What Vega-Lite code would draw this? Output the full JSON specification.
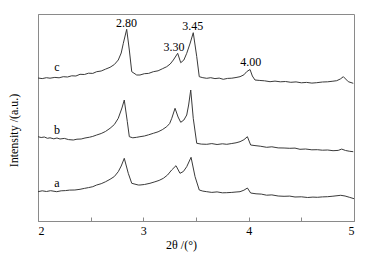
{
  "$schema": "https://vega.github.io/schema/vega-lite/v6.json",
  "width": 316,
  "height": 207,
  "autosize": {"type": "none"},
  "padding": {"left": 38, "top": 14, "right": 14, "bottom": 35},
  "config": {
    "view": {"stroke": "#8a8a8a", "strokeWidth": 1},
    "font": "Liberation Serif, Times New Roman, serif"
  },
  "datasets": {
    "curves": [
      {"s": "c", "t": 2.000, "i": 143}, {"s": "c", "t": 2.040, "i": 142.4}, {"s": "c", "t": 2.080, "i": 143.3}, {"s": "c", "t": 2.114, "i": 142.8}, {"s": "c", "t": 2.160, "i": 143.6}, {"s": "c", "t": 2.200, "i": 143.2}, {"s": "c", "t": 2.240, "i": 144.3}, {"s": "c", "t": 2.280, "i": 144}, {"s": "c", "t": 2.320, "i": 145.2}, {"s": "c", "t": 2.360, "i": 145}, {"s": "c", "t": 2.399, "i": 146.7}, {"s": "c", "t": 2.440, "i": 146.5}, {"s": "c", "t": 2.480, "i": 147.8}, {"s": "c", "t": 2.520, "i": 147.6}, {"s": "c", "t": 2.557, "i": 149.3}, {"s": "c", "t": 2.600, "i": 150}, {"s": "c", "t": 2.640, "i": 151.8}, {"s": "c", "t": 2.684, "i": 153.7}, {"s": "c", "t": 2.725, "i": 156.5}, {"s": "c", "t": 2.762, "i": 161}, {"s": "c", "t": 2.790, "i": 168}, {"s": "c", "t": 2.810, "i": 177.7}, {"s": "c", "t": 2.842, "i": 191.7}, {"s": "c", "t": 2.867, "i": 171}, {"s": "c", "t": 2.890, "i": 149.3}, {"s": "c", "t": 2.937, "i": 146}, {"s": "c", "t": 2.968, "i": 146}, {"s": "c", "t": 3.010, "i": 147.3}, {"s": "c", "t": 3.050, "i": 147.6}, {"s": "c", "t": 3.095, "i": 149.3}, {"s": "c", "t": 3.140, "i": 150.2}, {"s": "c", "t": 3.180, "i": 152.2}, {"s": "c", "t": 3.222, "i": 154.3}, {"s": "c", "t": 3.255, "i": 157}, {"s": "c", "t": 3.285, "i": 161}, {"s": "c", "t": 3.326, "i": 167.7}, {"s": "c", "t": 3.355, "i": 158.3}, {"s": "c", "t": 3.385, "i": 161}, {"s": "c", "t": 3.412, "i": 167.7}, {"s": "c", "t": 3.445, "i": 178}, {"s": "c", "t": 3.474, "i": 188.3}, {"s": "c", "t": 3.507, "i": 164.3}, {"s": "c", "t": 3.531, "i": 144.3}, {"s": "c", "t": 3.565, "i": 143.3}, {"s": "c", "t": 3.602, "i": 142.7}, {"s": "c", "t": 3.640, "i": 143.3}, {"s": "c", "t": 3.680, "i": 142.4}, {"s": "c", "t": 3.720, "i": 142.9}, {"s": "c", "t": 3.759, "i": 141.7}, {"s": "c", "t": 3.800, "i": 142.6}, {"s": "c", "t": 3.840, "i": 142.8}, {"s": "c", "t": 3.880, "i": 143.5}, {"s": "c", "t": 3.918, "i": 144.3}, {"s": "c", "t": 3.955, "i": 146.2}, {"s": "c", "t": 3.981, "i": 149.3}, {"s": "c", "t": 4.013, "i": 151.5}, {"s": "c", "t": 4.035, "i": 145}, {"s": "c", "t": 4.060, "i": 141}, {"s": "c", "t": 4.100, "i": 140.6}, {"s": "c", "t": 4.150, "i": 140.2}, {"s": "c", "t": 4.203, "i": 139.3}, {"s": "c", "t": 4.250, "i": 139.9}, {"s": "c", "t": 4.300, "i": 139.2}, {"s": "c", "t": 4.350, "i": 139.5}, {"s": "c", "t": 4.400, "i": 138.7}, {"s": "c", "t": 4.450, "i": 139.1}, {"s": "c", "t": 4.500, "i": 138.2}, {"s": "c", "t": 4.550, "i": 138.6}, {"s": "c", "t": 4.600, "i": 137.9}, {"s": "c", "t": 4.646, "i": 138.3}, {"s": "c", "t": 4.700, "i": 139}, {"s": "c", "t": 4.750, "i": 139.2}, {"s": "c", "t": 4.800, "i": 139.8}, {"s": "c", "t": 4.836, "i": 140.3}, {"s": "c", "t": 4.870, "i": 142}, {"s": "c", "t": 4.899, "i": 144.3}, {"s": "c", "t": 4.946, "i": 139.3}, {"s": "c", "t": 4.993, "i": 137.7},
      {"s": "b", "t": 2.000, "i": 84.3}, {"s": "b", "t": 2.030, "i": 83.5}, {"s": "b", "t": 2.060, "i": 84}, {"s": "b", "t": 2.090, "i": 82.7}, {"s": "b", "t": 2.114, "i": 83.2}, {"s": "b", "t": 2.150, "i": 82.2}, {"s": "b", "t": 2.180, "i": 83}, {"s": "b", "t": 2.209, "i": 82}, {"s": "b", "t": 2.250, "i": 82.6}, {"s": "b", "t": 2.290, "i": 81.4}, {"s": "b", "t": 2.335, "i": 81}, {"s": "b", "t": 2.370, "i": 81.8}, {"s": "b", "t": 2.410, "i": 82}, {"s": "b", "t": 2.446, "i": 83}, {"s": "b", "t": 2.490, "i": 83.8}, {"s": "b", "t": 2.520, "i": 84.6}, {"s": "b", "t": 2.557, "i": 86}, {"s": "b", "t": 2.600, "i": 87.5}, {"s": "b", "t": 2.640, "i": 89.5}, {"s": "b", "t": 2.684, "i": 92.7}, {"s": "b", "t": 2.725, "i": 96.5}, {"s": "b", "t": 2.762, "i": 102.7}, {"s": "b", "t": 2.797, "i": 113}, {"s": "b", "t": 2.819, "i": 121}, {"s": "b", "t": 2.848, "i": 99.3}, {"s": "b", "t": 2.867, "i": 84.3}, {"s": "b", "t": 2.900, "i": 83.2}, {"s": "b", "t": 2.937, "i": 83.7}, {"s": "b", "t": 2.968, "i": 84.3}, {"s": "b", "t": 3.010, "i": 85}, {"s": "b", "t": 3.050, "i": 86.2}, {"s": "b", "t": 3.095, "i": 87.7}, {"s": "b", "t": 3.140, "i": 89.2}, {"s": "b", "t": 3.180, "i": 91.3}, {"s": "b", "t": 3.222, "i": 94.3}, {"s": "b", "t": 3.250, "i": 97.5}, {"s": "b", "t": 3.270, "i": 102.7}, {"s": "b", "t": 3.301, "i": 112.7}, {"s": "b", "t": 3.330, "i": 104}, {"s": "b", "t": 3.355, "i": 98.7}, {"s": "b", "t": 3.385, "i": 101}, {"s": "b", "t": 3.412, "i": 106}, {"s": "b", "t": 3.430, "i": 116}, {"s": "b", "t": 3.450, "i": 131}, {"s": "b", "t": 3.474, "i": 102.7}, {"s": "b", "t": 3.507, "i": 77.7}, {"s": "b", "t": 3.550, "i": 76.9}, {"s": "b", "t": 3.602, "i": 76.7}, {"s": "b", "t": 3.650, "i": 77.4}, {"s": "b", "t": 3.700, "i": 76.5}, {"s": "b", "t": 3.750, "i": 77.2}, {"s": "b", "t": 3.792, "i": 76.7}, {"s": "b", "t": 3.840, "i": 77.5}, {"s": "b", "t": 3.880, "i": 78.2}, {"s": "b", "t": 3.918, "i": 79.3}, {"s": "b", "t": 3.955, "i": 81.3}, {"s": "b", "t": 3.988, "i": 84.3}, {"s": "b", "t": 4.019, "i": 76}, {"s": "b", "t": 4.060, "i": 75.4}, {"s": "b", "t": 4.110, "i": 74.8}, {"s": "b", "t": 4.171, "i": 73.7}, {"s": "b", "t": 4.220, "i": 74.2}, {"s": "b", "t": 4.280, "i": 73.1}, {"s": "b", "t": 4.336, "i": 73}, {"s": "b", "t": 4.390, "i": 72.7}, {"s": "b", "t": 4.440, "i": 72.9}, {"s": "b", "t": 4.487, "i": 71.7}, {"s": "b", "t": 4.540, "i": 72}, {"s": "b", "t": 4.600, "i": 71.2}, {"s": "b", "t": 4.652, "i": 71.3}, {"s": "b", "t": 4.700, "i": 70.8}, {"s": "b", "t": 4.750, "i": 71}, {"s": "b", "t": 4.801, "i": 70.3}, {"s": "b", "t": 4.850, "i": 70.6}, {"s": "b", "t": 4.883, "i": 71.9}, {"s": "b", "t": 4.920, "i": 70.5}, {"s": "b", "t": 4.960, "i": 69.7}, {"s": "b", "t": 4.993, "i": 69.3},
      {"s": "a", "t": 2.000, "i": 29.3}, {"s": "a", "t": 2.040, "i": 30.2}, {"s": "a", "t": 2.080, "i": 29.5}, {"s": "a", "t": 2.120, "i": 30.3}, {"s": "a", "t": 2.178, "i": 29.3}, {"s": "a", "t": 2.220, "i": 30.2}, {"s": "a", "t": 2.260, "i": 30.4}, {"s": "a", "t": 2.300, "i": 30.9}, {"s": "a", "t": 2.350, "i": 31}, {"s": "a", "t": 2.399, "i": 31.7}, {"s": "a", "t": 2.440, "i": 32.6}, {"s": "a", "t": 2.480, "i": 33.4}, {"s": "a", "t": 2.520, "i": 34.3}, {"s": "a", "t": 2.557, "i": 36}, {"s": "a", "t": 2.600, "i": 37.3}, {"s": "a", "t": 2.640, "i": 39.2}, {"s": "a", "t": 2.684, "i": 41.7}, {"s": "a", "t": 2.725, "i": 44.5}, {"s": "a", "t": 2.762, "i": 49.3}, {"s": "a", "t": 2.790, "i": 55}, {"s": "a", "t": 2.819, "i": 62.7}, {"s": "a", "t": 2.857, "i": 47.7}, {"s": "a", "t": 2.890, "i": 37.7}, {"s": "a", "t": 2.952, "i": 36}, {"s": "a", "t": 2.968, "i": 36}, {"s": "a", "t": 3.010, "i": 36.5}, {"s": "a", "t": 3.063, "i": 37.7}, {"s": "a", "t": 3.110, "i": 39.2}, {"s": "a", "t": 3.150, "i": 40.6}, {"s": "a", "t": 3.190, "i": 42.7}, {"s": "a", "t": 3.230, "i": 46}, {"s": "a", "t": 3.269, "i": 51}, {"s": "a", "t": 3.310, "i": 55.3}, {"s": "a", "t": 3.348, "i": 47.7}, {"s": "a", "t": 3.380, "i": 49.5}, {"s": "a", "t": 3.412, "i": 54.3}, {"s": "a", "t": 3.453, "i": 63.7}, {"s": "a", "t": 3.491, "i": 44.3}, {"s": "a", "t": 3.531, "i": 31}, {"s": "a", "t": 3.565, "i": 29.9}, {"s": "a", "t": 3.602, "i": 29.3}, {"s": "a", "t": 3.650, "i": 28.6}, {"s": "a", "t": 3.700, "i": 29.1}, {"s": "a", "t": 3.750, "i": 28.2}, {"s": "a", "t": 3.792, "i": 28.3}, {"s": "a", "t": 3.840, "i": 28.6}, {"s": "a", "t": 3.880, "i": 29}, {"s": "a", "t": 3.918, "i": 29.3}, {"s": "a", "t": 3.955, "i": 30.8}, {"s": "a", "t": 3.988, "i": 33}, {"s": "a", "t": 4.019, "i": 28}, {"s": "a", "t": 4.070, "i": 27.2}, {"s": "a", "t": 4.120, "i": 26.9}, {"s": "a", "t": 4.170, "i": 25.8}, {"s": "a", "t": 4.220, "i": 26.1}, {"s": "a", "t": 4.280, "i": 25}, {"s": "a", "t": 4.336, "i": 24.7}, {"s": "a", "t": 4.390, "i": 24.9}, {"s": "a", "t": 4.440, "i": 24}, {"s": "a", "t": 4.500, "i": 24.2}, {"s": "a", "t": 4.560, "i": 23.5}, {"s": "a", "t": 4.610, "i": 23.9}, {"s": "a", "t": 4.652, "i": 23.7}, {"s": "a", "t": 4.700, "i": 24.1}, {"s": "a", "t": 4.750, "i": 24.3}, {"s": "a", "t": 4.800, "i": 24.8}, {"s": "a", "t": 4.874, "i": 25.7}, {"s": "a", "t": 4.915, "i": 25}, {"s": "a", "t": 4.960, "i": 23.6}, {"s": "a", "t": 5.000, "i": 22.3}
    ],
    "labels": [
      {"t": 2.84, "i": 198.3, "text": "2.80"},
      {"t": 3.29, "i": 174.3, "text": "3.30"},
      {"t": 3.47, "i": 195, "text": "3.45"},
      {"t": 4.02, "i": 159.3, "text": "4.00"},
      {"t": 2.18, "i": 154.3, "text": "c"},
      {"t": 2.18, "i": 91, "text": "b"},
      {"t": 2.18, "i": 38.3, "text": "a"}
    ]
  },
  "layer": [
    {
      "data": {"name": "curves"},
      "mark": {"type": "line", "color": "#3a3a3a", "strokeWidth": 1},
      "encoding": {
        "x": {
          "field": "t", "type": "quantitative",
          "scale": {"domain": [2, 5], "nice": false, "zero": false},
          "axis": {
            "values": [2, 2.5, 3, 3.5, 4, 4.5, 5],
            "labelExpr": "datum.value % 1 == 0 ? format(datum.value, 'd') : ''",
            "grid": false,
            "tickSize": -4,
            "tickColor": "#8a8a8a",
            "domainColor": "#8a8a8a",
            "labelFont": "Liberation Serif, Times New Roman, serif",
            "labelFontSize": 12,
            "labelColor": "#000000",
            "labelPadding": 8,
            "title": "2θ /(°)",
            "titleFont": "Liberation Serif, Times New Roman, serif",
            "titleFontSize": 12,
            "titleFontWeight": "normal",
            "titleColor": "#000000",
            "titleX": 143,
            "titlePadding": 3
          }
        },
        "y": {
          "field": "i", "type": "quantitative",
          "scale": {"domain": [0, 207], "nice": false},
          "axis": {
            "labels": false,
            "ticks": false,
            "grid": false,
            "domainColor": "#8a8a8a",
            "title": "Intensity /(a.u.)",
            "titleFont": "Liberation Serif, Times New Roman, serif",
            "titleFontSize": 12,
            "titleFontWeight": "normal",
            "titleColor": "#000000",
            "titlePadding": 18,
            "titleY": 116
          }
        },
        "detail": {"field": "s", "type": "nominal"}
      }
    },
    {
      "data": {"name": "labels"},
      "mark": {"type": "text", "font": "Liberation Serif, Times New Roman, serif", "fontSize": 12, "color": "#000000", "baseline": "middle", "align": "center"},
      "encoding": {
        "x": {"field": "t", "type": "quantitative"},
        "y": {"field": "i", "type": "quantitative"},
        "text": {"field": "text", "type": "nominal"}
      }
    }
  ]
}
